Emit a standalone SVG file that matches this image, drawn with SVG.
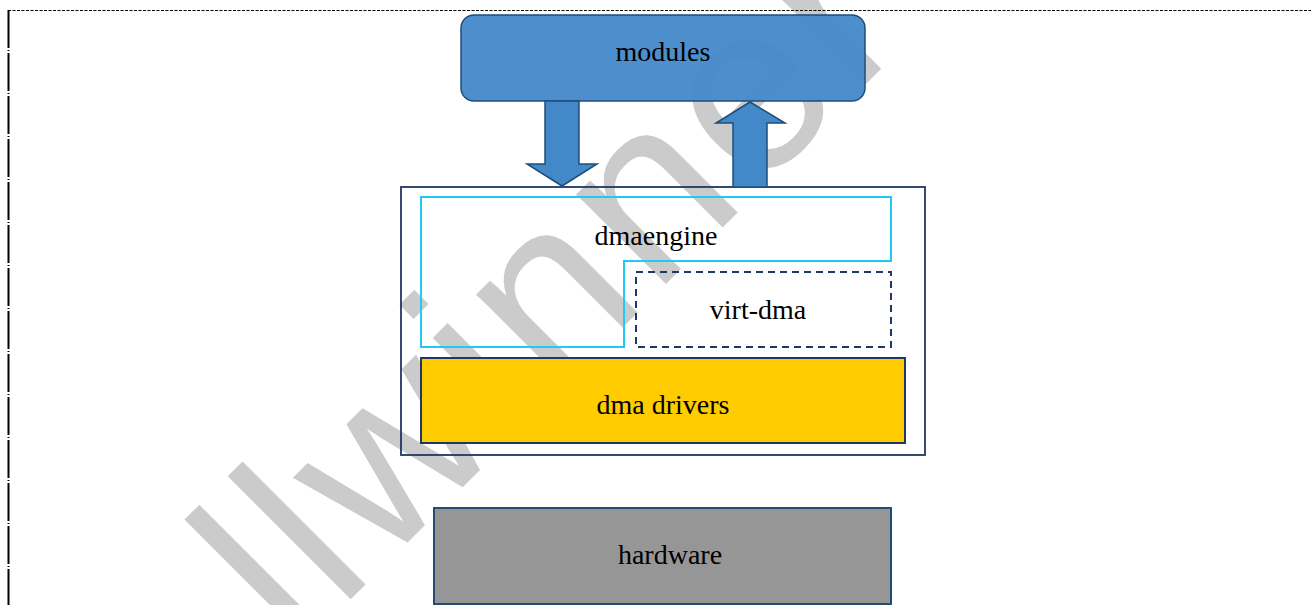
<svg xmlns="http://www.w3.org/2000/svg" width="1311" height="605" viewBox="0 0 1311 605">
  <style>
    .lbl { font-family: "Liberation Serif", "Times New Roman", serif; font-size: 28px; fill: #000; text-anchor: middle; }
    .wm { font-family: "Liberation Sans", Arial, sans-serif; font-size: 240px; fill: #cbcbcb; letter-spacing: 8px; }
    .blk { fill: #4388c9; stroke: #1f4e79; stroke-width: 1.5; }
  </style>
  <rect x="0" y="0" width="1311" height="605" fill="#ffffff"/>
  <g id="watermark">
    <text class="wm" transform="translate(296,654) rotate(-45)" x="0" y="0">llwinner</text>
  </g>
  <g id="frame" fill="none" stroke="#000">
    <line x1="8" y1="10.5" x2="1311" y2="10.5" stroke-width="1.2" stroke-dasharray="3 1.5"/>
    <line x1="8.5" y1="10" x2="8.5" y2="605" stroke-width="2" stroke-dasharray="38 2 1 2"/>
  </g>
  <g id="modules">
    <rect x="461" y="15" width="404" height="86" rx="13" ry="13" class="blk" fill-opacity="0.95"/>
    <text class="lbl" x="663" y="61">modules</text>
  </g>
  <g id="container">
    <rect x="401" y="187" width="524" height="268" fill="none" stroke="#1f3864" stroke-width="1.8"/>
  </g>
  <g id="dmaengine">
    <path d="M421,197 H891 V261 H624 V347 H421 Z" fill="none" stroke="#1fcbf5" stroke-width="2"/>
    <text class="lbl" x="656" y="245">dmaengine</text>
  </g>
  <g id="virt-dma">
    <rect x="636" y="272" width="255" height="75" fill="none" stroke="#1f3864" stroke-width="2" stroke-dasharray="7 5"/>
    <text class="lbl" x="758" y="319">virt-dma</text>
  </g>
  <g id="dma-drivers">
    <rect x="421" y="358" width="484" height="85" fill="#ffcc00" stroke="#1f3864" stroke-width="2"/>
    <text class="lbl" x="663" y="414">dma drivers</text>
  </g>
  <g id="hardware">
    <rect x="434" y="508" width="457" height="96" fill="#969696" stroke="#1f4e79" stroke-width="2"/>
    <text class="lbl" x="670" y="564">hardware</text>
  </g>
  <g id="connectors">
    <path d="M545,101 H579 V164 H597 L562,186 L527,164 H545 Z" class="blk"/>
    <path d="M733,187 V123 H716 L750,102 L785,123 H767 V187 Z" class="blk"/>
  </g>
</svg>
